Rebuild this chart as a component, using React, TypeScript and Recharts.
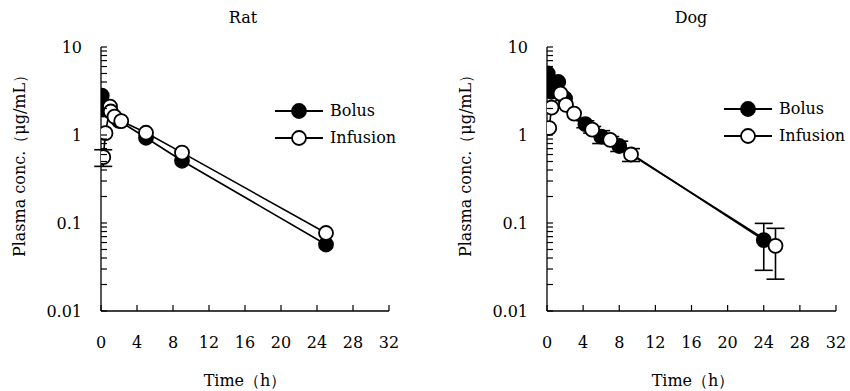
import { LineChart, Line, XAxis, YAxis, ErrorBar } from "recharts";

// sampling times (h) and plasma concentrations (ug/mL)
const ratBolusT = [0.083, 0.25, 1, 2, 5, 9, 25];
const ratBolusC = [2.8, 1.95, 1.85, 1.45, 0.93, 0.51, 0.057];
const ratBolusE = [0, 0, 0, 0, 0, 0, 0];

const ratInfT = [0.25, 0.5, 1, 1.083, 1.5, 2.25, 5, 9, 25];
const ratInfC = [0.56, 1.05, 2.1, 1.85, 1.62, 1.44, 1.06, 0.63, 0.077];
const ratInfE = [0.12, 0, 0, 0, 0, 0, 0, 0, 0];

const dogBolusT = [0.083, 0.25, 0.5, 1.25, 2, 4.25, 6, 8, 24];
const dogBolusC = [5.0, 3.9, 3.1, 4.0, 2.6, 1.33, 0.96, 0.75, 0.064];
const dogBolusE = [0, 0, 0, 0, 0, 0.12, 0.16, 0.1, 0.035];

const dogInfT = [0.25, 0.5, 1.5, 2.1, 3, 5, 7, 9.3, 25.3];
const dogInfC = [1.2, 2.05, 2.95, 2.2, 1.75, 1.15, 0.88, 0.6, 0.055];
const dogInfE = [0, 0, 0, 0, 0, 0.1, 0.08, 0.1, 0.032];

const xTicks = [0, 4, 8, 12, 16, 20, 24, 28, 32];
const yTicks = [
  0.01, 0.02, 0.03, 0.04, 0.05, 0.06, 0.07, 0.08, 0.09,
  0.1, 0.2, 0.3, 0.4, 0.5, 0.6, 0.7, 0.8, 0.9,
  1, 2, 3, 4, 5, 6, 7, 8, 9, 10,
];
const yLabels = [0.01, 0.1, 1, 10];
const seriesNames = ["Bolus", "Infusion"];

const FONT = "'DejaVu Serif', 'Liberation Serif', serif";

const toRows = (t: number[], c: number[], e: number[]) =>
  t.map((time, i) => ({ time, conc: c[i], err: e[i] }));

const YTick = (props: any) => {
  const { x, y, payload } = props;
  const v = payload.value;
  const major = yLabels.some((m) => Math.abs(v - m) < 1e-9);
  return (
    <g>
      <line x1={x} x2={x + 6} y1={y} y2={y} stroke="#000" strokeWidth={1.2} />
      {major && (
        <text x={x - 19} y={y} textAnchor="end" dominantBaseline="central" fontSize={16} fontFamily={FONT} fill="#000">
          {String(v)}
        </text>
      )}
    </g>
  );
};

const XTick = (props: any) => {
  const { x, y, payload } = props;
  return (
    <g>
      <line x1={x} x2={x} y1={y} y2={y - 6} stroke="#000" strokeWidth={1.2} />
      <text x={x} y={y + 31} textAnchor="middle" dominantBaseline="central" fontSize={16} fontFamily={FONT} fill="#000">
        {payload.value}
      </text>
    </g>
  );
};

const LegendBox = ({ left, top }: { left: number; top: number }) => (
  <div style={{ position: "absolute", left, top, fontFamily: FONT, fontSize: 16, color: "#000" }}>
    {seriesNames.map((name, i) => (
      <div key={name} style={{ display: "flex", alignItems: "center", height: 27 }}>
        <svg width={50} height={18}>
          <line x1={1} x2={49} y1={9} y2={9} stroke="#000" strokeWidth={1.8} />
          <circle cx={25} cy={9} r={7} fill={i === 0 ? "#000" : "#fff"} stroke="#000" strokeWidth={1.8} />
        </svg>
        <span style={{ marginLeft: 6 }}>{name}</span>
      </div>
    ))}
  </div>
);

interface PanelProps {
  bolus: { time: number; conc: number; err: number }[];
  infusion: { time: number; conc: number; err: number }[];
  marginLeft: number;
  marginRight: number;
}

function Panel({ bolus, infusion, marginLeft, marginRight }: PanelProps) {
  const dot = (fill: string) => ({ r: 7, fill, stroke: "#000", strokeWidth: 1.8 });
  return (
    <LineChart width={425} height={391} margin={{ top: 47, right: marginRight, bottom: 50, left: marginLeft }}>
      <XAxis
        type="number"
        dataKey="time"
        domain={[0, 32]}
        ticks={xTicks}
        tickSize={0}
        tickMargin={0}
        tickLine={false}
        tick={<XTick />}
        height={30}
        stroke="#000"
        strokeWidth={1.3}
        allowDataOverflow
      />
      <YAxis
        type="number"
        scale="log"
        domain={[0.01, 10]}
        ticks={yTicks}
        interval={0}
        tickSize={0}
        tickMargin={0}
        tickLine={false}
        tick={<YTick />}
        width={60}
        stroke="#000"
        strokeWidth={1.3}
        allowDataOverflow
      />
      <Line data={bolus} dataKey="conc" name="Bolus" stroke="#000" strokeWidth={1.6} dot={dot("#000")} activeDot={false} isAnimationActive={false}>
        <ErrorBar dataKey="err" width={9} stroke="#000" strokeWidth={1.6} direction="y" />
      </Line>
      <Line data={infusion} dataKey="conc" name="Infusion" stroke="#000" strokeWidth={1.6} dot={dot("#fff")} activeDot={false} isAnimationActive={false}>
        <ErrorBar dataKey="err" width={9} stroke="#000" strokeWidth={1.6} direction="y" />
      </Line>
    </LineChart>
  );
}

const textStyle = { position: "absolute" as const, fontFamily: FONT, fontSize: 16, color: "#000", whiteSpace: "nowrap" as const };

export default function App() {
  return (
    <div style={{ position: "absolute", left: 0, top: 0, width: 850, height: 391, background: "#fff" }}>
      <div style={{ position: "absolute", left: 0, top: 0 }}>
        <Panel bolus={toRows(ratBolusT, ratBolusC, ratBolusE)} infusion={toRows(ratInfT, ratInfC, ratInfE)} marginLeft={41} marginRight={36} />
      </div>
      <div style={{ position: "absolute", left: 425, top: 0 }}>
        <Panel bolus={toRows(dogBolusT, dogBolusC, dogBolusE)} infusion={toRows(dogInfT, dogInfC, dogInfE)} marginLeft={62} marginRight={14} />
      </div>
      <LegendBox left={274} top={97} />
      <LegendBox left={723} top={95} />
      <div style={{ ...textStyle, left: 243, top: 17, transform: "translate(-50%, -50%)" }}>Rat</div>
      <div style={{ ...textStyle, left: 691, top: 17, transform: "translate(-50%, -50%)" }}>Dog</div>
      <div style={{ ...textStyle, left: 245, top: 381, transform: "translate(-50%, -50%)" }}>Time（h）</div>
      <div style={{ ...textStyle, left: 693, top: 381, transform: "translate(-50%, -50%)" }}>Time（h）</div>
      <div style={{ ...textStyle, left: 20, top: 162, transform: "translate(-50%, -50%) rotate(-90deg)" }}>Plasma conc.（μg/mL）</div>
      <div style={{ ...textStyle, left: 466, top: 162, transform: "translate(-50%, -50%) rotate(-90deg)" }}>Plasma conc.（μg/mL）</div>
    </div>
  );
}
